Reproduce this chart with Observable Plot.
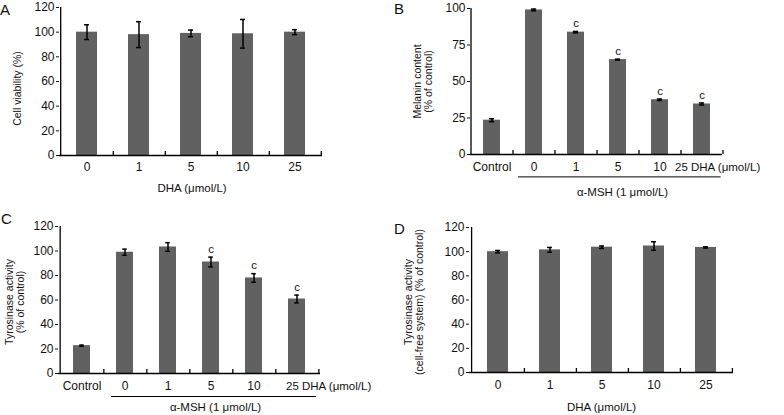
<!DOCTYPE html>
<html><head><meta charset="utf-8">
<script src="https://cdn.jsdelivr.net/npm/d3@7"></script>
<script src="https://cdn.jsdelivr.net/npm/@observablehq/plot@0.6"></script>
<style>
body{margin:0;background:#fff;}
#wrap{position:relative;width:784px;height:415px;font-family:"Liberation Sans",Arial,sans-serif;color:#111;}
.panel{position:absolute;}
.letter{position:absolute;font-size:15px;line-height:1;}
</style></head><body><div id="wrap"></div>
<script>
// ---- data ----
const dhaCats = ["0","1","5","10","25"];
const msCats = ["Control","0","1","5","10","25"];
const viability = [100, 98, 99, 98.7, 100];
const viabilityErr = [6, 10.5, 2.7, 11.6, 2];
const melanin = [23.5, 99, 83.8, 65, 37.5, 34.6];
const melaninErr = [1, 0.6, 0.5, 0.3, 0.5, 0.7];
const melaninSig = ["", "", "c", "c", "c", "c"];
const tyro = [22.7, 99, 103.3, 91, 78, 60.8];
const tyroErr = [0.5, 2.5, 3.5, 4, 3.5, 3.2];
const tyroSig = ["", "", "", "c", "c", "c"];
const cellFree = [100, 101.5, 103.7, 104.7, 103.5];
const cellFreeErr = [1, 2, 1, 3.5, 0.5];
const yTicks120 = [0, 20, 40, 60, 80, 100, 120];
const yTicks100 = [0, 25, 50, 75, 100];

const wrap = document.getElementById("wrap");
const FONT = "'Liberation Sans', Arial, sans-serif";

function panel(cfg) {
  const {cats, values, errs, sig, ymax, yticks, width, height, ml, mr, mt, mb} = cfg;
  const n = cats.length;
  const step = (width - ml - mr) / n;
  const pad = 0.6;
  const bw = step * (1 - pad);
  const data = cats.map((c, i) => ({cat: c, v: values[i], e: errs[i], s: sig ? sig[i] : ""}));
  const pxPerUnit = (height - mt - mb) / ymax;
  const tickLen = 4 / pxPerUnit;
  const capInset = (bw - 5) / 2;
  const marks = [
    Plot.barY(data, {x: "cat", y: "v", fill: "#616161"}),
    Plot.ruleX(data, {x: "cat", y1: d => d.v - d.e, y2: d => d.v + d.e, stroke: "#000", strokeWidth: 1.5}),
    Plot.tickY(data, {x: "cat", y: d => d.v + d.e, insetLeft: capInset, insetRight: capInset, stroke: "#000", strokeWidth: 1.5}),
    Plot.tickY(data, {x: "cat", y: d => d.v - d.e, insetLeft: capInset, insetRight: capInset, stroke: "#000", strokeWidth: 1.5}),
    Plot.ruleY([0], {stroke: "#000", strokeWidth: 1.3}),
    Plot.ruleX([cats[0]], {x: d => d, dx: -step / 2, y1: 0, y2: ymax, stroke: "#000", strokeWidth: 1.3}),
    Plot.ruleX(cats, {x: d => d, dx: step / 2, y1: 0, y2: tickLen, stroke: "#000", strokeWidth: 1.3}),
    Plot.axisY({ticks: yticks, tickSize: 3, tickPadding: 2, label: null, fontSize: 12}),
    Plot.text(data, {x: "cat", text: d => cfg.lastLabel && d.cat === cats[n - 1] ? "" : d.cat, frameAnchor: "bottom", dy: cfg.tickDy, lineAnchor: "middle", fontSize: 12}),
    Plot.text(data.filter(d => d.s), {x: "cat", y: d => d.v + d.e, text: "s", dy: -8, fontSize: 11.5}),
    Plot.text([cfg.ylabel], {text: d => d, frameAnchor: "left", rotate: -90, dx: cfg.ylDx, dy: cfg.ylDy, textAnchor: "middle", lineAnchor: "middle", fontSize: 10.5, lineHeight: 1.05})
  ];
  if (cfg.lastLabel) {
    marks.push(Plot.text([{cat: cats[n - 1]}], {x: "cat", text: () => cfg.lastLabel, frameAnchor: "bottom", dy: cfg.tickDy, dx: cfg.lastDx, textAnchor: "start", lineAnchor: "middle", fontSize: 11.5}));
  }
  if (cfg.underline) {
    marks.push(Plot.ruleY([{a: cats[1], b: cats[n - 1]}], {y: 0, x1: "a", x2: "b", dy: cfg.underline.dy, insetLeft: cfg.underline.insetLeft, insetRight: cfg.underline.insetRight, stroke: "#000", strokeWidth: 1}));
  }
  if (cfg.xlabel) {
    marks.push(Plot.text([cfg.xlabel], {text: d => d, frameAnchor: "bottom", dx: cfg.xlDx, dy: cfg.xlDy, lineAnchor: "middle", fontSize: 11.5}));
  }
  const svg = Plot.plot({
    width, height,
    marginLeft: ml, marginRight: mr, marginTop: mt, marginBottom: mb,
    style: {fontFamily: FONT, fontSize: "11.5px", color: "#111", background: "transparent"},
    x: {type: "band", domain: cats, paddingInner: pad, paddingOuter: pad / 2, axis: null},
    y: {domain: [0, ymax], axis: null},
    marks
  });
  const div = document.createElement("div");
  div.className = "panel";
  div.style.left = cfg.left + "px";
  div.style.top = cfg.top + "px";
  div.appendChild(svg);
  wrap.appendChild(div);
  const L = document.createElement("div");
  L.className = "letter";
  L.textContent = cfg.letter;
  L.style.left = (cfg.left + cfg.letterX) + "px";
  L.style.top = (cfg.top + cfg.letterY) + "px";
  wrap.appendChild(L);
}

panel({cats: dhaCats, values: viability, errs: viabilityErr, ymax: 120, yticks: yTicks120,
  left: 0, top: 0, width: 392, height: 205, ml: 59, mr: 70, mt: 7, mb: 50,
  tickDy: 12, ylabel: "Cell viability (%)", ylDx: -42, ylDy: 7,
  xlabel: "DHA (μmol/L)", xlDx: 1, xlDy: 33, letter: "A", letterX: 0, letterY: 2});

panel({cats: msCats, values: melanin, errs: melaninErr, sig: melaninSig, ymax: 100, yticks: yTicks100,
  left: 392, top: 0, width: 392, height: 205, ml: 78, mr: 62, mt: 8, mb: 51,
  tickDy: 13, ylabel: "Melanin content\n(% of control)", ylDx: -48, ylDy: 0,
  lastLabel: "25 DHA (μmol/L)", lastDx: -27,
  underline: {dy: 22.4, insetLeft: -7, insetRight: -10.6},
  xlabel: "α-MSH (1 μmol/L)", xlDx: 26, xlDy: 37.4, letter: "B", letterX: 2, letterY: 1});

panel({cats: msCats, values: tyro, errs: tyroErr, sig: tyroSig, ymax: 120, yticks: yTicks120,
  left: 0, top: 205, width: 392, height: 210, ml: 58, mr: 72, mt: 21, mb: 42,
  tickDy: 13, ylabel: "Tyrosinase activity\n(% of control)", ylDx: -44, ylDy: 2,
  lastLabel: "25 DHA (μmol/L)", lastDx: -11,
  underline: {dy: 23, insetLeft: -5, insetRight: -11},
  xlabel: "α-MSH (1 μmol/L)", xlDx: 26, xlDy: 34.3, letter: "C", letterX: 1, letterY: 6});

panel({cats: dhaCats, values: cellFree, errs: cellFreeErr, ymax: 120, yticks: yTicks120,
  left: 392, top: 205, width: 392, height: 210, ml: 77, mr: 51, mt: 22, mb: 43,
  tickDy: 13, ylabel: "Tyrosinase activity\n(cell-free system) (% of control)", ylDx: -56, ylDy: 2,
  xlabel: "DHA (μmol/L)", xlDx: 0, xlDy: 35, letter: "D", letterX: 2, letterY: 16});
</script></body></html>
